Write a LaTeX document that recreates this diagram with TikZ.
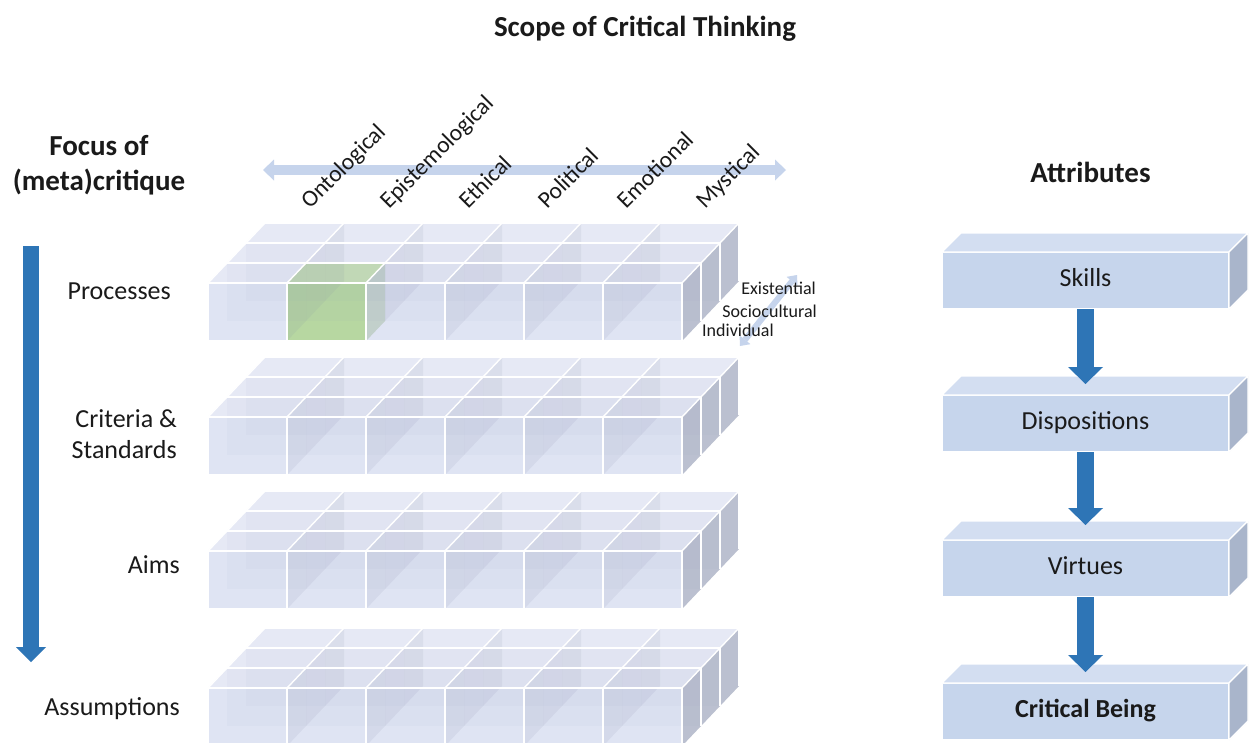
\documentclass[tikz,border=0pt]{standalone}
\usepackage{fontspec}
\setmainfont{Carlito}
\usetikzlibrary{arrows.meta,calc}

\definecolor{txt}{HTML}{1A1A1A}
\definecolor{cfront}{HTML}{DFE4F3}
\definecolor{ctop}{HTML}{E6E9F5}
\definecolor{cside}{HTML}{C3C8D6}
\definecolor{shadeF}{HTML}{8C99C2}
\definecolor{shadeR}{HTML}{7F88A3}
\definecolor{gfront}{HTML}{B7D7A1}
\definecolor{gtop}{HTML}{C8E0B6}
\definecolor{gside}{HTML}{CBD9D0}
\definecolor{boxfront}{HTML}{C6D5EC}
\definecolor{boxtop}{HTML}{D3DEF1}
\definecolor{boxside}{HTML}{A9B5CB}
\definecolor{flowblue}{HTML}{2E75B6}
\definecolor{axisblue}{HTML}{C6D4EC}

% one cube of the grid, opaque: right face, top face, front face
% #1,#2 = front top-left corner
\newcommand\cubepaint[5]{%
  \begin{scope}[shift={(#1,#2)}]
    \fill[#5] (79,0) -- (98,-20) -- (98,38) -- (79,58) -- cycle;
    \fill[#4] (0,0) -- (79,0) -- (98,-20) -- (19,-20) -- cycle;
    \fill[#3] (0,0) rectangle (79,58);
  \end{scope}}

% a slab of 6 x 3 translucent cubes; #1 = y of the front top edge,
% #2 = extra drawing placed over the opaque pass
\newcommand\cubelayer[2]{%
  \foreach \j in {2,1,0}{\foreach \i in {0,...,5}{%
    \pgfmathsetmacro\cx{208+79*\i+19*\j}%
    \pgfmathsetmacro\cy{#1-20*\j}%
    \cubepaint{\cx}{\cy}{cfront}{ctop}{cside}}}
  #2
  % see-through shading of the hidden faces
  \foreach \j in {2,1,0}{\foreach \i in {0,...,5}{%
    \pgfmathsetmacro\cx{208+79*\i+19*\j}%
    \pgfmathsetmacro\cy{#1-20*\j}%
    \begin{scope}[shift={(\cx,\cy)}]
      \fill[shadeR, fill opacity=0.11] (79,0) -- (98,-20) -- (98,38) -- (79,58) -- cycle;
      \ifnum\j>0 \fill[shadeF, fill opacity=0.05] (0,0) rectangle (79,58);\fi
    \end{scope}}}
  % white cube edges
  \foreach \j in {0,...,3}{%
    \draw[edge] ({208+19*\j},{#1-20*\j}) -- ({682+19*\j},{#1-20*\j});
    \draw[edge] ({682+19*\j},{#1-20*\j}) -- ({682+19*\j},{#1+58-20*\j});}
  \foreach \i in {0,...,6}{%
    \draw[edge] ({208+79*\i},#1) -- ({265+79*\i},{#1-60});
    \draw[edge] ({208+79*\i},#1) -- ({208+79*\i},{#1+58});}
  \draw[edge] (208,{#1+58}) -- (682,{#1+58});
}

\begin{document}
\begin{tikzpicture}[x=1pt,y=-1pt,
  edge/.style={draw=white, line width=1.4pt},
  heading/.style={font=\fontsize{29}{35}\selectfont\bfseries, text=txt, inner sep=0pt},
  lbl/.style={font=\fontsize{26}{31}\selectfont, text=txt, inner sep=0pt},
  dimlbl/.style={font=\fontsize{23.5}{28}\selectfont, text=txt, inner sep=0pt, rotate=45, anchor=base west},
  small/.style={font=\fontsize{18}{22}\selectfont, text=txt, inner sep=0pt},
  attrbox/.style={rectangle, fill=boxfront, draw=white, line width=1.2pt,
    minimum width=287pt, minimum height=57pt, inner sep=0pt, outer sep=0pt,
    font=\fontsize{26}{31}\selectfont, text=txt, text height=16pt, text depth=5pt},
  boxtopface/.style={fill=boxtop, draw=white, line width=1.2pt, line join=round},
  boxsideface/.style={fill=boxside, draw=white, line width=1.2pt, line join=round},
  flow/.style={draw=flowblue, line width=17pt, -{Triangle[width=35pt,length=17pt,line width=0pt]}},
  focusarrow/.style={draw=flowblue, line width=16pt, -{Triangle[width=30pt,length=15pt,line width=0pt]}},
  axis/.style={draw=axisblue, line width=10pt,
    {Triangle[width=21pt,length=11pt,line width=0pt]}-{Triangle[width=21pt,length=11pt,line width=0pt]}},
  depth/.style={draw=axisblue, line width=6pt,
    {Triangle[width=14pt,length=8pt,line width=0pt]}-{Triangle[width=14pt,length=8pt,line width=0pt]}}
]
\useasboundingbox (0,0) rectangle (1250,742);
\clip (0,0) rectangle (1250,742);
\fill[white] (0,0) rectangle (1250,742);

% ---- the four slabs of cubes ----
\cubelayer{283}{\cubepaint{287}{283}{gfront}{gtop}{gside}}
\cubelayer{417}{}
\cubelayer{551}{}
\cubelayer{688}{}

% ---- axes ----
\coordinate (axL) at (263,170);
\coordinate (axR) at (786,170);
\draw[axis] (axL) -- (axR);
\coordinate (dpLo) at (740,346);
\coordinate (dpHi) at (797,275);
\draw[depth] (dpLo) -- (dpHi);
\coordinate (fTop) at (31,246);
\coordinate (fBot) at (31,662);
\draw[focusarrow] (fTop) -- (fBot);

% ---- headings ----
\node[heading, anchor=base] (title) at (645,36) {Scope of Critical Thinking};
\node[heading, align=center, anchor=north] (focus) at (99,135) {Focus of\\(meta)critique};
\node[heading, anchor=base] (attrs) at (1090.5,182) {Attributes};

% ---- slab labels ----
\node[lbl, anchor=base east] (proc) at (171,299) {Processes};
\node[lbl, align=right, anchor=north east] (crit) at (177,409) {Criteria \&\\Standards};
\node[lbl, anchor=base east] (aims) at (180,573) {Aims};
\node[lbl, anchor=base east] (assm) at (180,715) {Assumptions};

% ---- dimensions along the top ----
\foreach \t [count=\k from 0] in {Ontological,Epistemological,Ethical,Political,Emotional,Mystical}
  \node[dimlbl] (dim\k) at ({310+79*\k},210) {\t};

% ---- depth levels ----
\node[small, anchor=base east] (exi) at (816,294) {Existential};
\node[small, anchor=base east] (soc) at (817,317) {Sociocultural};
\node[small, anchor=base west] (ind) at (702,336) {Individual};

% ---- attributes column ----
\node[attrbox] (skills) at (1085.5,280.5) {Skills};
\node[attrbox] (disp) at (1085.5,423.5) {Dispositions};
\node[attrbox] (virt) at (1085.5,568.5) {Virtues};
\node[attrbox, font=\fontsize{26}{31}\selectfont\bfseries] (being) at (1085.5,711.5) {Critical Being};
\foreach \b in {skills,disp,virt,being}{
  \filldraw[boxtopface] (\b.north west) -- ++(19,-19) -- ($(\b.north east)+(19,-19)$) -- (\b.north east) -- cycle;
  \filldraw[boxsideface] (\b.north east) -- ++(19,-19) -- ++(0,57) -- (\b.south east) -- cycle;
}
\draw[flow] (skills.south) -- ([yshift=11pt]disp.north);
\draw[flow] (disp.south) -- ([yshift=15pt]virt.north);
\draw[flow] (virt.south) -- ([yshift=11pt]being.north);
\end{tikzpicture}
\end{document}
